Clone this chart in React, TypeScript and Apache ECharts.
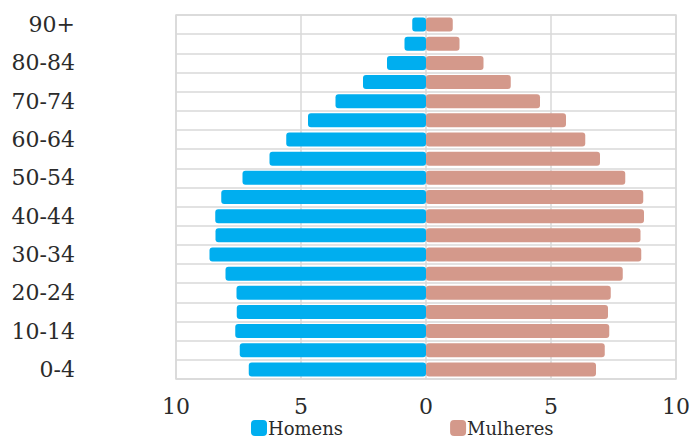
import React, { useEffect, useRef } from "react";
import * as echarts from "echarts";

const ageGroups = [
  "0-4", "5-9", "10-14", "15-19", "20-24", "25-29", "30-34", "35-39", "40-44",
  "45-49", "50-54", "55-59", "60-64", "65-69", "70-74", "75-79", "80-84", "85-89", "90+",
];
const homens = [7.09, 7.45, 7.63, 7.57, 7.58, 8.02, 8.66, 8.42, 8.43, 8.19, 7.34, 6.26, 5.59, 4.72, 3.62, 2.52, 1.56, 0.86, 0.55];
const mulheres = [6.80, 7.15, 7.33, 7.28, 7.39, 7.87, 8.61, 8.58, 8.72, 8.69, 7.97, 6.96, 6.37, 5.60, 4.56, 3.39, 2.30, 1.34, 1.07];
const xTicks = { min: -10, max: 10, interval: 5 };

const FONT = "'DejaVu Serif', serif";
const TEXT = "#2b2b2b";

export default function App() {
  const ref = useRef<HTMLDivElement>(null);
  useEffect(() => {
    if (!ref.current) return;
    const chart = echarts.init(ref.current, null, { renderer: "svg" });
    chart.setOption({
      animation: false,
      grid: {
        left: 176,
        right: 24,
        top: 15,
        bottom: 64,
        show: true,
        borderColor: "#d9d9d9",
        borderWidth: 1.5,
      },
      legend: {
        bottom: 1,
        left: 246,
        itemGap: 107,
        itemWidth: 16,
        itemHeight: 16,
        icon: "roundRect",
        textStyle: { fontFamily: FONT, fontSize: 18, color: TEXT, padding: [0, 0, 0, -4] },
        data: ["Homens", "Mulheres"],
      },
      xAxis: {
        type: "value",
        min: xTicks.min,
        max: xTicks.max,
        interval: xTicks.interval,
        axisLine: { show: false },
        axisTick: { show: false },
        axisLabel: {
          margin: 16,
          fontFamily: FONT,
          fontSize: 22,
          color: TEXT,
          formatter: (v: number) => String(Math.abs(v)),
        },
        splitLine: { show: true, lineStyle: { color: "#d9d9d9", width: 1.5 } },
      },
      yAxis: {
        type: "category",
        data: ageGroups,
        axisLine: { show: false },
        axisTick: { show: false },
        axisLabel: {
          interval: 1,
          margin: 101,
          fontFamily: FONT,
          fontSize: 22,
          color: TEXT,
        },
        splitLine: { show: true, interval: 0, lineStyle: { color: "#d9d9d9", width: 1.5 } },
      },
      series: [
        {
          name: "Homens",
          type: "bar",
          data: homens.map((v) => -v),
          barWidth: 14,
          barGap: "-100%",
          itemStyle: { color: "#00AEEF", borderRadius: 3 },
        },
        {
          name: "Mulheres",
          type: "bar",
          data: mulheres,
          barWidth: 14,
          barGap: "-100%",
          itemStyle: { color: "#D4998B", borderRadius: 3 },
        },
      ],
    });
    return () => chart.dispose();
  }, []);
  return <div ref={ref} style={{ width: 700, height: 443, marginLeft: -8, marginTop: -8 }} />;
}
